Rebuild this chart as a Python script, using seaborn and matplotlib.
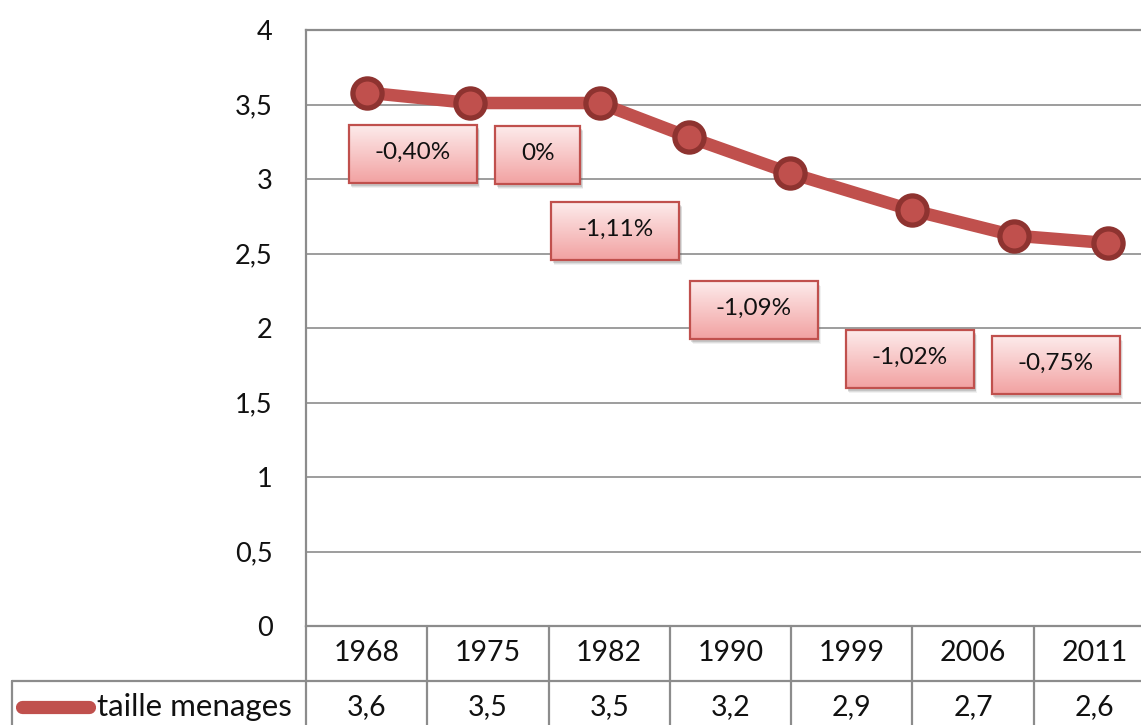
import numpy as np
import matplotlib
matplotlib.use("Agg")
import matplotlib.pyplot as plt
import seaborn as sns
from matplotlib.colors import LinearSegmentedColormap
from matplotlib.patches import Rectangle

# ── Data ──────────────────────────────────────────────────────────────
YEARS = ["1968", "1975", "1982", "1990", "1999", "2006", "2011"]
TAILLE = [3.6, 3.5, 3.5, 3.2, 2.9, 2.7, 2.6]
SERIES_NAME = "taille menages"

# drawn curve as it appears on the picture (category units, value)
CURVE_POS = [0.0, 0.85, 1.92, 2.66, 3.49, 4.5, 5.34, 6.11]
CURVE_VAL = [3.58, 3.51, 3.51, 3.28, 3.04, 2.79, 2.62, 2.57]

RATES = ["-0,40%", "0%", "-1,11%", "-1,09%", "-1,02%", "-0,75%"]

# ── Layout / style ────────────────────────────────────────────────────
W, H = 1141, 725
PX_X = 121.3          # px per category
PX_Y = 148.9          # px per unit on y
RATE_XY = [(0.38, 3.17), (1.41, 3.16), (2.05, 2.65),
           (3.19, 2.12), (4.48, 1.79), (5.68, 1.75)]
RATE_W = [128, 85, 128, 128, 128, 128]   # box widths in px
RATE_H = 58

RED = "#C0504D"
RED_DARK = "#8E3330"
GRID = "#8c8c8c"
TXT = "#111111"

sns.set_style("white")
plt.rcParams["font.family"] = ["Lato", "DejaVu Sans"]


def fmt(v):
    s = f"{v:g}"
    return s.replace(".", ",")


fig = plt.figure(figsize=(W / 100, H / 100), dpi=100)
left, right, top, bottom = 306, 1155, 30, 626
ax = fig.add_axes([left / W, (H - bottom) / H, (right - left) / W, (bottom - top) / H])

# grid + frame
for v in np.arange(0.5, 4.0, 0.5):
    ax.axhline(v, color=GRID, lw=1.2, zorder=0)
for s in ["left", "top", "bottom"]:
    ax.spines[s].set_color(GRID)
    ax.spines[s].set_linewidth(1.6)
ax.spines["right"].set_visible(False)

sns.lineplot(x=CURVE_POS, y=CURVE_VAL, ax=ax, sort=False, color=RED,
             linewidth=9, marker="o", markersize=21, markeredgewidth=3.8,
             markeredgecolor=RED_DARK, markerfacecolor=RED, zorder=4,
             solid_capstyle="round", solid_joinstyle="round")

# rate labels: pink gradient boxes with shadow
grad = LinearSegmentedColormap.from_list("pink", ["#F2A2A2", "#FDECEC"])
grad_img = np.linspace(0, 1, 64).reshape(-1, 1)
for txt, (cx, cy), wpx in zip(RATES, RATE_XY, RATE_W):
    bw, bh = wpx / PX_X, RATE_H / PX_Y
    x0, y0 = cx - bw / 2, cy - bh / 2
    for k, a in [(5, 0.08), (4, 0.12), (3, 0.18)]:
        ax.add_patch(Rectangle((x0 + k / PX_X * 0.6, y0 - k / PX_Y), bw, bh,
                               facecolor="#555555", edgecolor="none",
                               alpha=a, zorder=5))
    ax.imshow(grad_img, cmap=grad, origin="lower", aspect="auto",
              extent=[x0, x0 + bw, y0, y0 + bh], zorder=6)
    ax.add_patch(Rectangle((x0, y0), bw, bh, facecolor="none",
                           edgecolor=RED, lw=1.6, zorder=7))
    ax.text(cx, cy + 0.01, txt, ha="center", va="center", fontsize=17.5,
            color=TXT, zorder=8)

ax.set_xlim(-0.5, 6.5)
ax.set_ylim(0, 4)
ax.set_xticks([])
ax.set_yticks(np.arange(0, 4.01, 0.5))
ax.set_yticklabels([fmt(v) for v in np.arange(0, 4.01, 0.5)],
                   fontsize=19.5, color=TXT)
ax.tick_params(axis="y", length=0, pad=24)

# ── Data table below the plot ─────────────────────────────────────────
row_h = 54.5
tab = fig.add_axes([left / W, (H - bottom - 2 * row_h) / H,
                    (right - left) / W, 2 * row_h / H], sharex=ax)
tab.set_ylim(0, 2)
tab.axis("off")
n = len(YEARS)
for b in np.arange(-0.5, n, 1.0):
    tab.plot([b, b], [0, 2], color=GRID, lw=1.6, clip_on=False)
tab.plot([-0.5, n - 0.5], [1, 1], color=GRID, lw=1.6, clip_on=False)

ytr = tab.get_yaxis_transform()
aw = right - left
tab.plot([(12 - left) / aw, 0], [1, 1], color=GRID, lw=1.6,
         transform=ytr, clip_on=False)
tab.plot([(12 - left) / aw] * 2, [0, 1], color=GRID, lw=1.6,
         transform=ytr, clip_on=False)
tab.plot([(22 - left) / aw, (89 - left) / aw], [0.52, 0.52], color=RED,
         lw=9.5, solid_capstyle="round", transform=ytr, clip_on=False)
tab.text((97 - left) / aw, 0.52, SERIES_NAME, transform=ytr, ha="left",
         va="center", fontsize=22.5, color=TXT)

for i, (yr, v) in enumerate(zip(YEARS, TAILLE)):
    tab.text(i, 1.5, yr, ha="center", va="center", fontsize=20.5, color=TXT)
    tab.text(i, 0.52, fmt(v), ha="center", va="center", fontsize=20.5,
             color=TXT)

fig.savefig("out.png", dpi=100)
